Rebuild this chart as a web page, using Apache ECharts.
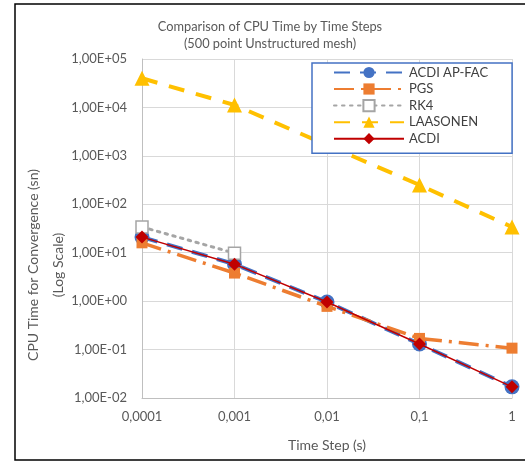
<!DOCTYPE html>
<html>
<head>
<meta charset="utf-8">
<script src="https://cdn.jsdelivr.net/npm/echarts@6/dist/echarts.min.js"></script>
<style>html,body{margin:0;padding:0;background:#fff;}#c{width:525px;height:462px;}</style>
</head>
<body>
<div id="c"></div>
<script>
var timeSteps = [0.0001, 0.001, 0.01, 0.1, 1];
var xTickLabels = ['0,0001', '0,001', '0,01', '0,1', '1'];
var yTickLabels = ['1,00E-02', '1,00E-01', '1,00E+00', '1,00E+01', '1,00E+02', '1,00E+03', '1,00E+04', '1,00E+05'];
var acdiApFac = [21, 5.8, 0.96, 0.13, 0.017];
var pgs = [16, 3.8, 0.78, 0.17, 0.107];
var rk4 = [34, 9.8];
var laasonen = [40000, 11200, null, 250, 34];
var acdi = [21, 5.8, 0.96, 0.13, 0.017];

function pairs(vals) { return vals.map(function (v, i) { return [timeSteps[i], v == null ? '-' : v]; }); }

var FONT = 'Lato';
var chart = echarts.init(document.getElementById('c'), null, { renderer: 'canvas' });
chart.setOption({
  backgroundColor: '#fff',
  animation: false,
  textStyle: { fontFamily: FONT },
  title: {
    text: 'Comparison of CPU Time by Time Steps\n(500 point Unstructured mesh)',
    left: 265, top: 13, textAlign: 'center',
    textStyle: { fontFamily: FONT, fontSize: 12.8, fontWeight: 'normal', color: '#595959', lineHeight: 17 }
  },
  grid: { left: 142, right: 13, top: 59, bottom: 64, containLabel: false },
  xAxis: {
    type: 'log', logBase: 10, min: 0.0001, max: 1, interval: 1,
    name: 'Time Step (s)', nameLocation: 'middle', nameGap: 40,
    nameTextStyle: { fontFamily: FONT, fontSize: 14, color: '#595959' },
    axisLine: { show: true, lineStyle: { color: '#BFBFBF', width: 1 } },
    axisTick: { show: false },
    axisLabel: {
      fontFamily: FONT, fontSize: 13, color: '#595959', margin: 12,
      formatter: function (v) { var i = Math.round(Math.log10(v)) + 4; return xTickLabels[i] || ''; }
    },
    splitLine: { show: true, lineStyle: { color: '#D9D9D9', width: 1 } },
    minorTick: { show: false }
  },
  yAxis: {
    type: 'log', logBase: 10, min: 0.01, max: 100000, interval: 1,
    axisLine: { show: true, lineStyle: { color: '#BFBFBF', width: 1 } },
    axisTick: { show: false },
    axisLabel: {
      fontFamily: FONT, fontSize: 13, color: '#595959', margin: 15,
      formatter: function (v) { var i = Math.round(Math.log10(v)) + 2; return yTickLabels[i] || ''; }
    },
    splitLine: { show: true, lineStyle: { color: '#D9D9D9', width: 1 } }
  },
  legend: {
    orient: 'vertical', left: 312, top: 63,
    padding: [3, 24, 8, 21],
    itemWidth: 70, itemHeight: 14, itemGap: 3.5,
    backgroundColor: '#fff', borderColor: '#4472C4', borderWidth: 1.5, borderRadius: 0,
    textStyle: { fontFamily: FONT, fontSize: 13, color: '#404040' },
    data: ['ACDI AP-FAC', 'PGS', 'RK4', 'LAASONEN', 'ACDI'],
    zlevel: 1, z: 10
  },
  graphic: [
    { type: 'rect', shape: { x: 15, y: 4, width: 530, height: 456 }, style: { fill: 'none', stroke: '#000', lineWidth: 1.5 }, z: 100 },
    { type: 'text', x: 21, y: 265, rotation: Math.PI / 2,
      style: { text: 'CPU Time for Convergence (sn)\n(Log Scale)', textAlign: 'center', textVerticalAlign: 'top', fill: '#595959', font: '14px Lato', lineHeight: 25 } }
  ],
  series: [
    {
      name: 'ACDI AP-FAC', type: 'line', data: pairs(acdiApFac),
      symbol: 'circle', symbolSize: 15,
      lineStyle: { color: '#4472C4', width: 4, type: [16, 10] },
      itemStyle: { color: '#4472C4' }, z: 2
    },
    {
      name: 'PGS', type: 'line', data: pairs(pgs),
      symbol: 'rect', symbolSize: 11,
      lineStyle: { color: '#ED7D31', width: 3.5, type: [20, 7, 3, 7] },
      itemStyle: { color: '#ED7D31' }, z: 3
    },
    {
      name: 'RK4', type: 'line', data: pairs(rk4),
      symbol: 'rect', symbolSize: 12,
      lineStyle: { color: '#A5A5A5', width: 3, type: [2.5, 5.5], cap: 'round' },
      itemStyle: { color: '#fff', borderColor: '#A5A5A5', borderWidth: 1.5 }, z: 3
    },
    {
      name: 'LAASONEN', type: 'line', data: pairs(laasonen), connectNulls: true,
      symbol: 'triangle', symbolSize: 15,
      lineStyle: { color: '#FFC000', width: 4, type: [16, 12] },
      itemStyle: { color: '#FFC000' }, z: 3
    },
    {
      name: 'ACDI', type: 'line', data: pairs(acdi),
      symbol: 'diamond', symbolSize: 13,
      lineStyle: { color: '#C00000', width: 1.5 },
      itemStyle: { color: '#C00000' }, z: 4
    }
  ]
});
</script>
</body>
</html>
